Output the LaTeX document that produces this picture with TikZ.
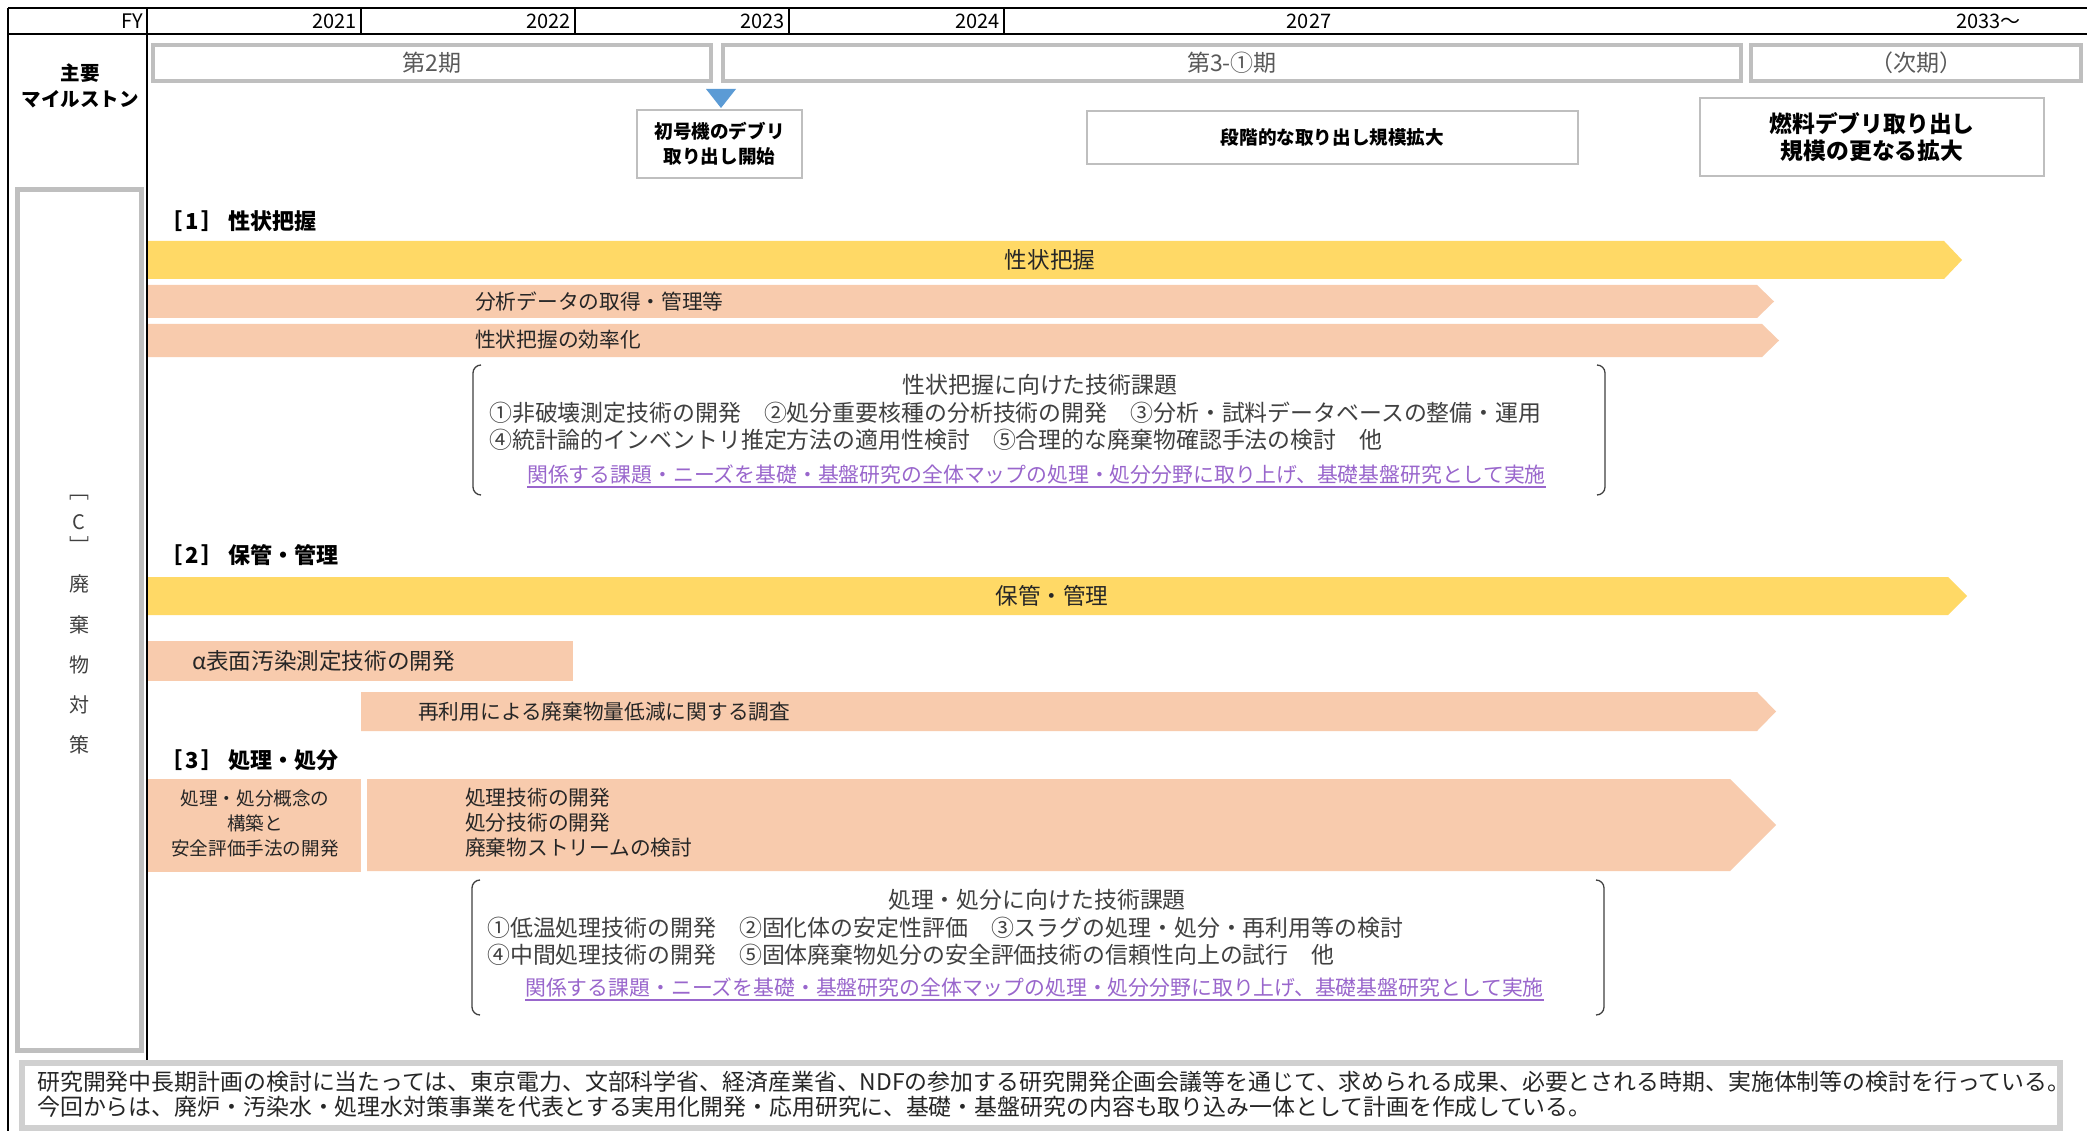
\documentclass[tikz,border=0pt]{standalone}
\usepackage{fontspec}
\setmainfont{Noto Sans CJK JP}
\definecolor{yel}{HTML}{FFD966}
\definecolor{sal}{HTML}{F8CBAD}
\definecolor{boxg}{HTML}{BFBFBF}
\definecolor{footg}{HTML}{D0D0D0}
\definecolor{txt}{HTML}{404040}
\definecolor{dtxt}{HTML}{262626}
\definecolor{ptxt}{HTML}{595959}
\definecolor{tri}{HTML}{5B9BD5}
\definecolor{lnk}{HTML}{9966CC}
\tikzset{
  hdr/.style={black,line width=2.5},
  sep/.style={black,line width=1.2},
  yr/.style={inner sep=0,font={\fontsize{20}{24}\selectfont},text=black},
  phase/.style={draw=boxg,line width=4,fill=white,inner sep=0,font={\fontsize{23}{27}\selectfont},text=ptxt},
  msbox/.style={draw=boxg,line width=1.5,fill=white,inner sep=0,align=center,text=black},
  sect/.style={inner sep=0,anchor=west,font={\fontsize{22}{26}\selectfont\bfseries},text=black},
  bartxt/.style={inner sep=0,font={\fontsize{22.6}{27}\selectfont},text=dtxt},
  subtxt/.style={inner sep=0,font={\fontsize{20.7}{25}\selectfont},text=dtxt},
  brtxt/.style={inner sep=0,font={\fontsize{22.9}{27}\selectfont},text=txt},
  lktxt/.style={inner sep=0,anchor=west,font={\fontsize{20.85}{25}\selectfont},text=lnk},
  brk/.style={txt,line width=1.3},
  coltxt/.style={inner sep=0,font={\fontsize{20}{24}\selectfont},text=txt},
}
\newcommand\secnum[1]{［\hspace{3pt}#1\hspace{3pt}］\hspace{5pt}}
\begin{document}
\begin{tikzpicture}[x=1pt,y=-1pt]
\useasboundingbox (0,0) rectangle (2087,1131);
\fill[white] (0,0) rectangle (2087,1131);

% ---------- header grid ----------
\draw[hdr] (8,8) -- (2087,8);
\draw[hdr] (8,34) -- (2087,34);
\draw[hdr] (8,8) -- (8,1131);
\draw[hdr] (147,8) -- (147,1060);
\foreach \x in {361,575,789,1004} \draw[sep] (\x,8) -- (\x,34);
\node[yr,anchor=east] (fy) at (143,21) {FY};
\node[yr,anchor=east] (y21) at (357,21) {2021};
\node[yr,anchor=east] (y22) at (571,21) {2022};
\node[yr,anchor=east] (y23) at (785,21) {2023};
\node[yr,anchor=east] (y24) at (1000,21) {2024};
\node[yr] (y27) at (1309,21) {2027};
\node[yr,anchor=east] (y33) at (2021,21) {2033〜};

% ---------- milestones ----------
\node[inner sep=0,align=center,font={\fontsize{19.5}{26}\selectfont\bfseries}] (ms) at (80,86) {主要\\マイルストン};
\node[phase,minimum width=558,minimum height=36] (p2) at (432,63) {第2期};
\node[phase,minimum width=1018,minimum height=36] (p3) at (1232,63) {第3-①期};
\node[phase,minimum width=330,minimum height=36] (pn) at (1916,63) {（次期）};
\fill[tri] (706,89) -- (736,89) -- (721,108) -- cycle;
\node[msbox,minimum width=165,minimum height=68,font={\fontsize{18.6}{25}\selectfont\bfseries}] (m1) at (719.5,144) {初号機のデブリ\\取り出し開始};
\node[msbox,minimum width=491,minimum height=53,font={\fontsize{18.6}{25}\selectfont\bfseries}] (m2) at (1332.5,137.5) {段階的な取り出し規模拡大};
\node[msbox,minimum width=344,minimum height=78,font={\fontsize{22.8}{27}\selectfont\bfseries}] (m3) at (1872,137) {燃料デブリ取り出し\\規模の更なる拡大};

% ---------- left category column ----------
\draw[boxg,line width=5] (17,190) rectangle (141,1050);
\node[coltxt] (c0) at (79,498) {﹇};
\node[coltxt] (c1) at (79,522) {C};
\node[coltxt] (c2) at (79,545) {﹈};
\node[coltxt] (c3) at (79,584) {廃};
\node[coltxt] (c4) at (79,625) {棄};
\node[coltxt] (c5) at (79,665) {物};
\node[coltxt] (c6) at (79,705) {対};
\node[coltxt] (c7) at (79,745) {策};

% ---------- [1] ----------
\node[sect] (s1) at (160,221) {\secnum{1}性状把握};
\fill[yel] (148,241) -- (1944,241) -- (1962,260) -- (1944,279) -- (148,279) -- cycle;
\node[bartxt] (b1) at (1050,260) {性状把握};
\fill[sal] (148,285) -- (1757,285) -- (1774,301.5) -- (1757,318) -- (148,318) -- cycle;
\node[subtxt,anchor=west] (b2) at (475,302) {分析データの取得・管理等};
\fill[sal] (148,324) -- (1762,324) -- (1779,340.5) -- (1762,357) -- (148,357) -- cycle;
\node[subtxt,anchor=west] (b3) at (475,340) {性状把握の効率化};

\draw[brk] (481,365) to[out=180,in=90] (473,373) -- (473,487) to[out=-90,in=180] (481,495);
\draw[brk] (1597,365) to[out=0,in=90] (1605,373) -- (1605,487) to[out=-90,in=0] (1597,495);
\node[brtxt] (t1) at (1040,385) {性状把握に向けた技術課題};
\node[brtxt,anchor=west] (t1a) at (489,413) {①非破壊測定技術の開発　②処分重要核種の分析技術の開発　③分析・試料データベースの整備・運用};
\node[brtxt,anchor=west] (t1b) at (489,440) {④統計論的インベントリ推定方法の適用性検討　⑤合理的な廃棄物確認手法の検討　他};
\node[lktxt] (l1) at (527,475) {関係する課題・ニーズを基礎・基盤研究の全体マップの処理・処分分野に取り上げ、基礎基盤研究として実施};
\draw[lnk,line width=1.2] ([yshift=-2]l1.south west) -- ([yshift=-2]l1.south east);

% ---------- [2] ----------
\node[sect] (s2) at (160,555) {\secnum{2}保管・管理};
\fill[yel] (148,577) -- (1948,577) -- (1967,596) -- (1948,615) -- (148,615) -- cycle;
\node[bartxt] (b4) at (1052,596) {保管・管理};
\fill[sal] (148,641) rectangle (573,681);
\node[bartxt,anchor=west] (b5) at (192,661) {α表面汚染測定技術の開発};
\fill[sal] (361,692) -- (1757,692) -- (1776,711.5) -- (1757,731) -- (361,731) -- cycle;
\node[subtxt,anchor=west] (b6) at (418,712) {再利用による廃棄物量低減に関する調査};

% ---------- [3] ----------
\node[sect] (s3) at (160,760) {\secnum{3}処理・処分};
\fill[sal] (148,779) rectangle (361,872);
\node[inner sep=0,align=center,font={\fontsize{18.6}{25}\selectfont},text=dtxt] (b7) at (255,823) {処理・処分概念の\\構築と\\安全評価手法の開発};
\fill[sal] (367,779) -- (1730,779) -- (1776,825) -- (1730,871) -- (367,871) -- cycle;
\node[inner sep=0,anchor=west,align=left,font={\fontsize{20.7}{25}\selectfont},text=dtxt] (b8) at (465,823) {処理技術の開発\\処分技術の開発\\廃棄物ストリームの検討};

\draw[brk] (480,880) to[out=180,in=90] (472,888) -- (472,1007) to[out=-90,in=180] (480,1015);
\draw[brk] (1596,880) to[out=0,in=90] (1604,888) -- (1604,1007) to[out=-90,in=0] (1596,1015);
\node[brtxt] (t2) at (1037,900) {処理・処分に向けた技術課題};
\node[brtxt,anchor=west] (t2a) at (487,928) {①低温処理技術の開発　②固化体の安定性評価　③スラグの処理・処分・再利用等の検討};
\node[brtxt,anchor=west] (t2b) at (487,955) {④中間処理技術の開発　⑤固体廃棄物処分の安全評価技術の信頼性向上の試行　他};
\node[lktxt] (l2) at (525,988) {関係する課題・ニーズを基礎・基盤研究の全体マップの処理・処分分野に取り上げ、基礎基盤研究として実施};
\draw[lnk,line width=1.2] ([yshift=-2]l2.south west) -- ([yshift=-2]l2.south east);

% ---------- footnote ----------
\draw[footg,line width=6] (22,1063) rectangle (2060,1128);
\node[inner sep=0,anchor=west,align=left,font={\fontsize{22.9}{25}\selectfont},text=dtxt] (fn) at (37,1094.5) {研究開発中長期計画の検討に当たっては、東京電力、文部科学省、経済産業省、NDFの参加する研究開発企画会議等を通じて、求められる成果、必要とされる時期、実施体制等の検討を行っている。\\今回からは、廃炉・汚染水・処理水対策事業を代表とする実用化開発・応用研究に、基礎・基盤研究の内容も取り込み一体として計画を作成している。};
\end{tikzpicture}
\end{document}
